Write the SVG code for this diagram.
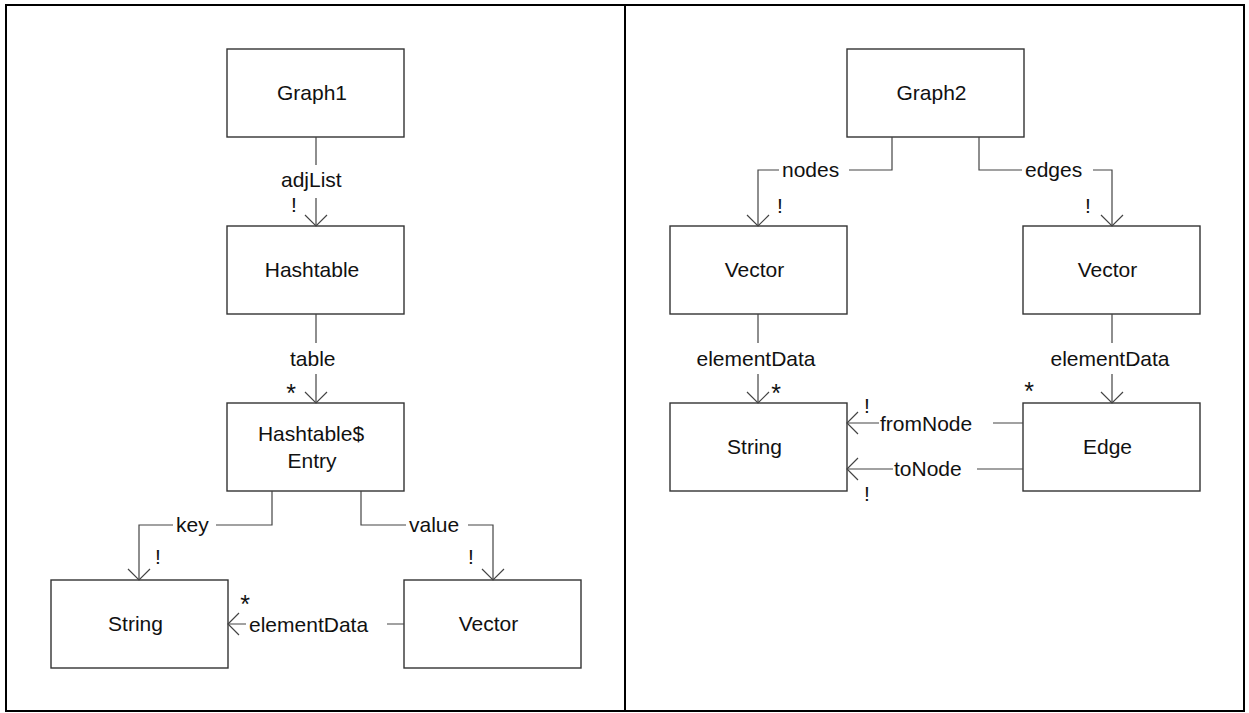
<svg xmlns="http://www.w3.org/2000/svg" width="1249" height="713" viewBox="0 0 1249 713">
  <style>
    .box { fill: #ffffff; stroke: #333333; stroke-width: 1.4; }
    .frame { fill: none; stroke: #000000; stroke-width: 2; }
    .conn { fill: none; stroke: #444444; stroke-width: 1.2; }
    text { font-family: "Liberation Sans", Arial, sans-serif; font-size: 21px; fill: #111111; }
    .c { text-anchor: middle; }
    .star { text-anchor: middle; font-size: 25px; }
  </style>
  <defs>
    <marker id="open" viewBox="0 0 24 24" refX="12" refY="12" markerWidth="24" markerHeight="24" markerUnits="userSpaceOnUse" orient="auto">
      <path d="M1,1 L12,12 L1,23" fill="none" stroke="#444444" stroke-width="1.2"/>
    </marker>
  </defs>

  <rect width="1249" height="713" fill="#ffffff"/>
  <rect class="frame" x="6" y="5" width="1238" height="706"/>
  <line class="frame" x1="625" y1="5" x2="625" y2="711"/>

  <!-- left panel -->
  <g id="graph1"><rect class="box" x="227" y="49" width="177" height="88"/><text class="c" x="312" y="100">Graph1</text></g>
  <g id="hashtable"><rect class="box" x="227" y="226" width="177" height="88"/><text class="c" x="312" y="277">Hashtable</text></g>
  <g id="entry"><rect class="box" x="227" y="403" width="177" height="88"/><text class="c" x="311" y="441">Hashtable$</text><text class="c" x="312" y="468">Entry</text></g>
  <g id="string1"><rect class="box" x="51" y="580" width="177" height="88"/><text class="c" x="135.5" y="631">String</text></g>
  <g id="vector1"><rect class="box" x="404" y="580" width="177" height="88"/><text class="c" x="488.5" y="631">Vector</text></g>

  <!-- right panel -->
  <g id="graph2"><rect class="box" x="847" y="49" width="177" height="88"/><text class="c" x="931.5" y="100">Graph2</text></g>
  <g id="vectorNodes"><rect class="box" x="670" y="226" width="177" height="88"/><text class="c" x="754.5" y="277">Vector</text></g>
  <g id="vectorEdges"><rect class="box" x="1023" y="226" width="177" height="88"/><text class="c" x="1107.5" y="277">Vector</text></g>
  <g id="string2"><rect class="box" x="670" y="403" width="177" height="88"/><text class="c" x="754.5" y="454">String</text></g>
  <g id="edge"><rect class="box" x="1023" y="403" width="177" height="88"/><text class="c" x="1107.5" y="454">Edge</text></g>

  <g id="connectors">
    <path class="conn" marker-end="url(#open)" d="M316,137 V165 M316,198 V226"/>
    <text x="281" y="187">adjList</text><text class="c" x="294" y="212">!</text>

    <path class="conn" marker-end="url(#open)" d="M316,314 V343 M316,374 V403"/>
    <text x="290" y="366">table</text><text class="star" x="291" y="402">*</text>

    <path class="conn" marker-end="url(#open)" d="M272,491 V525 H216 M173,525 H139 V580"/>
    <text x="176" y="532">key</text><text class="c" x="158" y="564">!</text>

    <path class="conn" marker-end="url(#open)" d="M361,491 V525 H406 M468,525 H493 V580"/>
    <text x="409" y="532">value</text><text class="c" x="471" y="564">!</text>

    <path class="conn" marker-end="url(#open)" d="M404,624 H387 M246,624 H228"/>
    <text x="249" y="632">elementData</text><text class="star" x="245" y="613">*</text>

    <path class="conn" marker-end="url(#open)" d="M892,137 V170 H849 M779,170 H758 V226"/>
    <text x="782" y="177">nodes</text><text class="c" x="780" y="213">!</text>

    <path class="conn" marker-end="url(#open)" d="M979,137 V170 H1022 M1093,170 H1112 V226"/>
    <text x="1025" y="177">edges</text><text class="c" x="1088" y="213">!</text>

    <path class="conn" marker-end="url(#open)" d="M758,314 V343 M758,374 V403"/>
    <text class="c" x="756" y="366">elementData</text><text class="star" x="776" y="402">*</text>

    <path class="conn" marker-end="url(#open)" d="M1112,314 V343 M1112,374 V403"/>
    <text class="c" x="1110" y="366">elementData</text><text class="star" x="1029" y="400">*</text>

    <path class="conn" marker-end="url(#open)" d="M1023,423 H993 M879,423 H847"/>
    <text x="880" y="431">fromNode</text><text class="c" x="867" y="413">!</text>

    <path class="conn" marker-end="url(#open)" d="M1023,469 H977 M893,469 H847"/>
    <text x="894" y="476">toNode</text><text class="c" x="867" y="501">!</text>
  </g>
</svg>
